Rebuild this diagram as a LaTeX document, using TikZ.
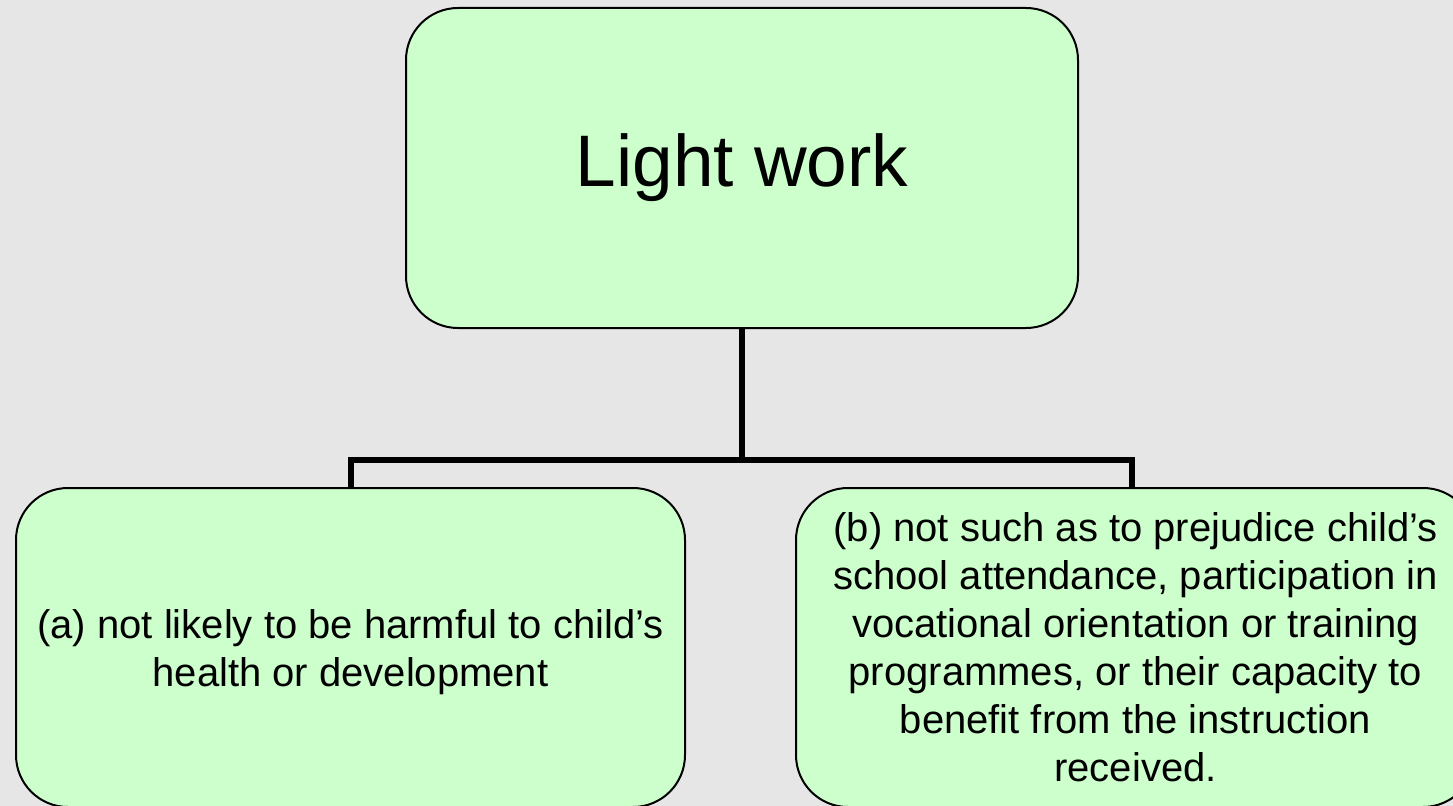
\documentclass[tikz,border=0pt]{standalone}
\usepackage{fontspec}
\setmainfont{Liberation Sans}
\begin{document}
\begin{tikzpicture}[x=0.75pt,y=-0.75pt,
  box/.style={draw=black, line width=1.5pt, fill=boxgreen, rounded corners=39pt,
    inner sep=0pt},
  conn/.style={draw=black, line width=4.5pt},
  bigtext/.style={font=\fontsize{54.75}{63}\selectfont, align=center, inner sep=0pt},
  bodytext/.style={font=\fontsize{30}{36}\selectfont, align=center, inner sep=0pt}]
\definecolor{boxgreen}{HTML}{CCFFCC}
\definecolor{bggray}{HTML}{E6E6E6}
% page frame and background
\useasboundingbox (0,0) rectangle (1453,806);
\clip (0,0) rectangle (1453,806);
\fill[bggray] (0,0) rectangle (1453,806);

% boxes
\node[box, minimum width=504pt, minimum height=240pt] (top) at (742,168) {};
\node[box, minimum width=501.75pt, minimum height=239.25pt] (left) at (350.5,647.5) {};
\node[box, minimum width=509.25pt, minimum height=239.25pt] (right) at (1135.5,647.5) {};

% box texts
\node[bigtext] (toptext) at (top.center) {Light work};
\node[bodytext, yshift=-3.6pt] (lefttext) at (left.center)
  {(a) not likely to be harmful to child’s\\health or development};
\node[bodytext] (righttext) at (right.center)
  {(b) not such as to prejudice child’s\\school attendance, participation in\\vocational orientation or training\\programmes, or their capacity to\\benefit from the instruction\\received.};

% tree connectors
\coordinate (bus) at (742,460);
\coordinate (rightin) at ([xshift=-2.4pt]right.north);
\draw[conn] (top.south) -- (bus);
\draw[conn] (left.north) |- (bus) -| (rightin);
\end{tikzpicture}
\end{document}
